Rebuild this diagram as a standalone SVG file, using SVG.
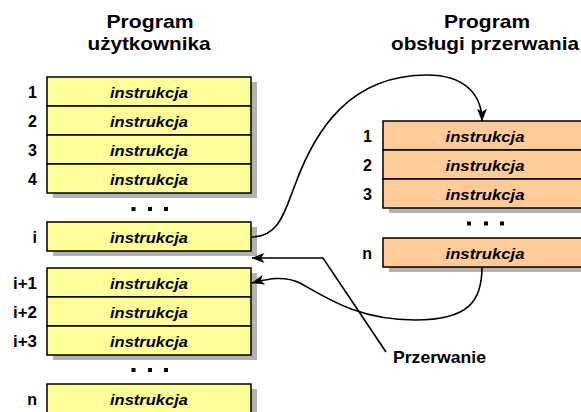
<svg xmlns="http://www.w3.org/2000/svg" width="581" height="412" viewBox="0 0 581 412">
<defs>
<marker id="ah" viewBox="0 0 13 10" refX="12.5" refY="5" markerWidth="13" markerHeight="10" markerUnits="userSpaceOnUse" orient="auto">
<path d="M0,0 L13,5 L0,10 L3.5,5 z" fill="#000"/>
</marker>
</defs>
<style>
.sh{fill:#b2b2b2}
.u{fill:#ffff99;stroke:#000;stroke-width:1.5}
.h{fill:#ffcc99;stroke:#000;stroke-width:1.5}
.ins{font-family:"Liberation Sans",Arial,sans-serif;font-weight:bold;font-style:italic;font-size:15px;text-anchor:middle;fill:#000}
.lbl{font-family:"Liberation Sans",Arial,sans-serif;font-weight:bold;font-size:16px;text-anchor:end;fill:#000}
.ttl{font-family:"Liberation Sans",Arial,sans-serif;font-weight:bold;font-size:19px;text-anchor:middle;fill:#000}
.dot{fill:#000}
.con{fill:none;stroke:#000;stroke-width:1.6}
</style>
<rect width="581" height="412" fill="#fff"/>

<g id="titles">
<text class="ttl" x="150" y="28" textLength="87" lengthAdjust="spacingAndGlyphs">Program</text>
<text class="ttl" x="149" y="50" textLength="123" lengthAdjust="spacingAndGlyphs">użytkownika</text>
<text class="ttl" x="487" y="28" textLength="86" lengthAdjust="spacingAndGlyphs">Program</text>
<text class="ttl" x="485" y="50" textLength="188" lengthAdjust="spacingAndGlyphs">obsługi przerwania</text>
</g>

<g id="shadows">
<rect class="sh" x="53" y="82" width="204" height="116"/>
<rect class="sh" x="53" y="227" width="204" height="29"/>
<rect class="sh" x="53" y="273" width="204" height="87"/>
<rect class="sh" x="53" y="389" width="204" height="29"/>
<rect class="sh" x="389" y="126" width="204" height="87"/>
<rect class="sh" x="389" y="243" width="204" height="29"/>
</g>

<g id="u1"><rect class="u" x="47" y="77" width="204" height="29"/><text class="lbl" x="37" y="97.5">1</text><text class="ins" x="149" y="97.5" textLength="78" lengthAdjust="spacingAndGlyphs">instrukcja</text></g>
<g id="u2"><rect class="u" x="47" y="106" width="204" height="29"/><text class="lbl" x="37" y="126.5">2</text><text class="ins" x="149" y="126.5" textLength="78" lengthAdjust="spacingAndGlyphs">instrukcja</text></g>
<g id="u3"><rect class="u" x="47" y="135" width="204" height="29"/><text class="lbl" x="37" y="155.5">3</text><text class="ins" x="149" y="155.5" textLength="78" lengthAdjust="spacingAndGlyphs">instrukcja</text></g>
<g id="u4"><rect class="u" x="47" y="164" width="204" height="29"/><text class="lbl" x="37" y="184.5">4</text><text class="ins" x="149" y="184.5" textLength="78" lengthAdjust="spacingAndGlyphs">instrukcja</text></g>
<g id="udots1"><rect class="dot" x="131.5" y="207" width="4" height="4"/><rect class="dot" x="148" y="207" width="4" height="4"/><rect class="dot" x="164" y="207" width="4" height="4"/></g>
<g id="ui"><rect class="u" x="47" y="222" width="204" height="29"/><text class="lbl" x="37" y="242.5">i</text><text class="ins" x="149" y="242.5" textLength="78" lengthAdjust="spacingAndGlyphs">instrukcja</text></g>
<g id="ui1"><rect class="u" x="47" y="268" width="204" height="29"/><text class="lbl" x="37" y="288.5" textLength="24" lengthAdjust="spacingAndGlyphs">i+1</text><text class="ins" x="149" y="288.5" textLength="78" lengthAdjust="spacingAndGlyphs">instrukcja</text></g>
<g id="ui2"><rect class="u" x="47" y="297" width="204" height="29"/><text class="lbl" x="37" y="317.5" textLength="24" lengthAdjust="spacingAndGlyphs">i+2</text><text class="ins" x="149" y="317.5" textLength="78" lengthAdjust="spacingAndGlyphs">instrukcja</text></g>
<g id="ui3"><rect class="u" x="47" y="326" width="204" height="29"/><text class="lbl" x="37" y="346.5" textLength="24" lengthAdjust="spacingAndGlyphs">i+3</text><text class="ins" x="149" y="346.5" textLength="78" lengthAdjust="spacingAndGlyphs">instrukcja</text></g>
<g id="udots2"><rect class="dot" x="131.5" y="368" width="4" height="4"/><rect class="dot" x="148" y="368" width="4" height="4"/><rect class="dot" x="164" y="368" width="4" height="4"/></g>
<g id="un"><rect class="u" x="47" y="384" width="204" height="29"/><text class="lbl" x="37" y="404.5">n</text><text class="ins" x="149" y="404.5" textLength="78" lengthAdjust="spacingAndGlyphs">instrukcja</text></g>

<g id="h1"><rect class="h" x="383" y="121" width="204" height="29"/><text class="lbl" x="372" y="141.5">1</text><text class="ins" x="485" y="141.5" textLength="79" lengthAdjust="spacingAndGlyphs">instrukcja</text></g>
<g id="h2"><rect class="h" x="383" y="150" width="204" height="29"/><text class="lbl" x="372" y="170.5">2</text><text class="ins" x="485" y="170.5" textLength="79" lengthAdjust="spacingAndGlyphs">instrukcja</text></g>
<g id="h3"><rect class="h" x="383" y="179" width="204" height="29"/><text class="lbl" x="372" y="199.5">3</text><text class="ins" x="485" y="199.5" textLength="79" lengthAdjust="spacingAndGlyphs">instrukcja</text></g>
<g id="hdots"><rect class="dot" x="467" y="221.5" width="4" height="4"/><rect class="dot" x="484" y="221.5" width="4" height="4"/><rect class="dot" x="500" y="221.5" width="4" height="4"/></g>
<g id="hn"><rect class="h" x="383" y="238" width="204" height="29"/><text class="lbl" x="372" y="258.5">n</text><text class="ins" x="485" y="258.5" textLength="79" lengthAdjust="spacingAndGlyphs">instrukcja</text></g>

<g id="przerwanie"><text class="lbl" x="393" y="363" style="text-anchor:start;font-size:16.5px" textLength="93" lengthAdjust="spacingAndGlyphs">Przerwanie</text></g>

<g id="connectors">
<path class="con" marker-end="url(#ah)" d="M251,237 C280,237 285,210 295,185 C315,130 350,75 427,75 C465,75 482,95 482,121"/>
<path class="con" marker-end="url(#ah)" d="M482,267 C482,300 470,320 415,320 C360,320 330,300 300,283 C285,276 270,278 252,283"/>
<path class="con" marker-end="url(#ah)" d="M386,352 L323,258 L252,258"/>
</g>
</svg>
